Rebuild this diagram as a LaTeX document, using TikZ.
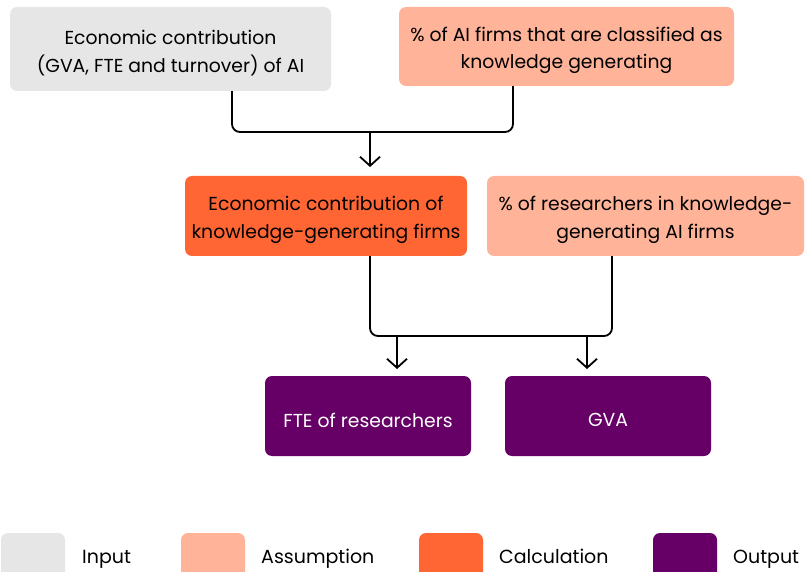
\documentclass[tikz,border=0pt]{standalone}
\usepackage{fontspec}
\setmainfont{Poppins}
\usetikzlibrary{arrows.meta}
\definecolor{cinput}{HTML}{E6E6E6}
\definecolor{cassum}{HTML}{FFB399}
\definecolor{ccalc}{HTML}{FF6633}
\definecolor{cout}{HTML}{660066}
\tikzset{
  box/.style={rounded corners=7pt, inner sep=0pt},
  inbox/.style={box, fill=cinput},
  asbox/.style={box, fill=cassum},
  calcbox/.style={box, fill=ccalc},
  outbox/.style={box, fill=cout},
  btxt/.style={align=center, inner sep=0pt, yshift=-4pt, text=black, font=\fontsize{18.8}{27.5}\selectfont},
  wtxt/.style={btxt, text=white},
  conn/.style={draw=black, line width=1.8pt, rounded corners=8pt},
  arr/.style={draw=black, line width=1.8pt, -{Straight Barb[length=9pt,width=20pt,line width=1.8pt]}},
  legsq/.style={rounded corners=7pt, inner sep=0pt, minimum width=64pt, minimum height=46pt},
  legtxt/.style={anchor=base west, inner sep=0pt, font=\fontsize{19}{22}\selectfont},
}
\begin{document}
\begin{tikzpicture}[x=1pt,y=-1pt]
\useasboundingbox (0,0) rectangle (806,572);
\node[inbox, minimum width=321pt, minimum height=84pt, label={[btxt]center:{Economic contribution\\(GVA, FTE and turnover) of AI}}] (n1) at (170.5,49) {};
\node[asbox, minimum width=335pt, minimum height=79pt, label={[btxt]center:{\% of AI firms that are classified as\\knowledge generating}}] (n2) at (566.5,46.5) {};
\node[calcbox, minimum width=282pt, minimum height=80pt, label={[btxt]center:{Economic contribution of\\knowledge-generating firms}}] (n3) at (326,216) {};
\node[asbox, minimum width=317pt, minimum height=80pt, label={[btxt]center:{\% of researchers in knowledge-\\generating AI firms}}] (n4) at (645.5,216) {};
\node[outbox, minimum width=206pt, minimum height=80pt, label={[wtxt]center:{FTE of researchers}}] (n5) at (368,416) {};
\node[outbox, minimum width=206pt, minimum height=80pt, label={[wtxt]center:{GVA}}] (n6) at (608,416) {};
% connectors
\coordinate (a1) at (232,0);
\coordinate (a2) at (513,0);
\coordinate (j1) at (370,132);
\coordinate (t1) at (370,167);
\draw[conn] (n1.south -| a1) |- (j1) -| (n2.south -| a2);
\draw[arr] (j1) -- (t1);
\coordinate (b1) at (370,0);
\coordinate (b2) at (612,0);
\coordinate (j2) at (397,336);
\coordinate (j3) at (587,336);
\draw[conn] (n3.south -| b1) |- (j2) -- (j3) -| (n4.south -| b2);
\coordinate (e5) at (397,369);
\coordinate (e6) at (587,369);
\draw[arr] (j2) -- (e5);
\draw[arr] (j3) -- (e6);
% legend
\node[legsq, fill=cinput] (l1) at (33,556) {};
\node[legtxt] (lt1) at (82,563.5) {Input};
\node[legsq, fill=cassum] (l2) at (213,556) {};
\node[legtxt] (lt2) at (261,563.5) {Assumption};
\node[legsq, fill=ccalc] (l3) at (451,556) {};
\node[legtxt] (lt3) at (499,563.5) {Calculation};
\node[legsq, fill=cout] (l4) at (685,556) {};
\node[legtxt] (lt4) at (733,563.5) {Output};
\end{tikzpicture}
\end{document}
